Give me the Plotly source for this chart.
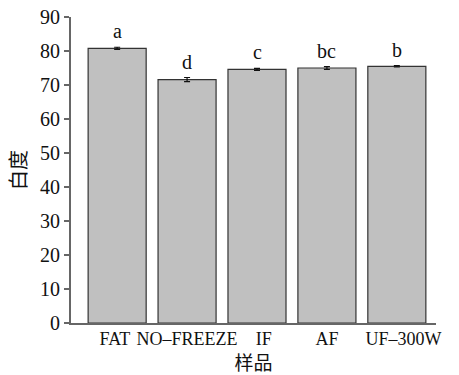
import plotly.graph_objects as go

categories = ["FAT", "NO\u2013FREEZE", "IF", "AF", "UF\u2013300W"]
values = [80.8, 71.6, 74.6, 75.0, 75.5]
errors = [0.3, 0.6, 0.3, 0.4, 0.2]
letters = ["a", "d", "c", "bc", "b"]

NB = "\u00a0"
tick_text = [categories[0] + NB, categories[1], NB * 3 + categories[2],
             categories[3], NB * 3 + categories[4]]

serif = "Liberation Serif, Times New Roman, serif"
cjk = "Noto Sans CJK SC"

fig = go.Figure()
fig.add_trace(go.Bar(
    x=list(range(len(categories))), y=values,
    marker=dict(color="#c0c0c0", line=dict(color="#333333", width=1.2)),
    width=0.83,
    error_y=dict(type="data", array=errors, color="#111111", thickness=1.2, width=3),
))
for i, (v, e, t) in enumerate(zip(values, errors, letters)):
    fig.add_annotation(x=i, y=v + e, text=t, showarrow=False, yanchor="bottom",
                       yshift=3, font=dict(family=serif, size=20, color="#111"))

fig.update_layout(
    width=459, height=375, plot_bgcolor="white", paper_bgcolor="white",
    margin=dict(l=71, r=23, t=17, b=52, autoexpand=False), showlegend=False,
    xaxis=dict(range=[-0.66, 4.56], tickmode="array", tickvals=list(range(len(categories))),
               ticktext=tick_text, tickangle=0, automargin=False, ticklabelstandoff=-2,
               showline=True, linecolor="#666", linewidth=2,
               ticks="", showgrid=False, zeroline=False,
               tickfont=dict(family=serif, size=18, color="#111"),
               title=dict(text="样品", font=dict(family=cjk, size=19, color="#111"), standoff=6)),
    yaxis=dict(range=[0, 90], tickvals=list(range(0, 91, 10)), showline=True, automargin=False,
               linecolor="#666", linewidth=2, ticks="outside", ticklen=5, tickcolor="#666",
               tickwidth=1.5, showgrid=False, zeroline=False,
               tickfont=dict(family=serif, size=20, color="#111"),
               title=dict(text="白度", font=dict(family=cjk, size=20, color="#111"), standoff=8)),
)
fig.write_html("out.html")
